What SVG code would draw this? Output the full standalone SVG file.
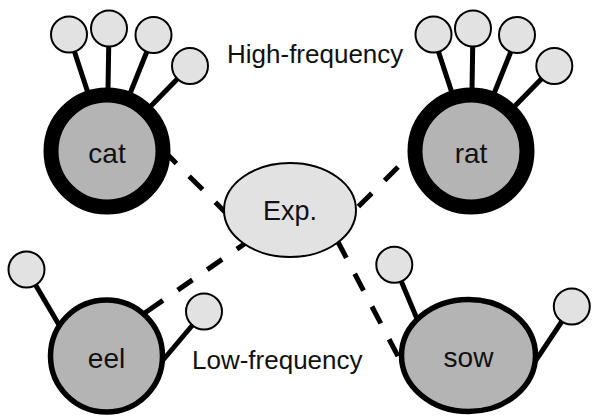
<svg xmlns="http://www.w3.org/2000/svg" width="592" height="416" viewBox="0 0 592 416">
<style>
.tail{stroke:#000;stroke-width:5;fill:none}
.dash{stroke:#000;stroke-width:5;fill:none;stroke-dasharray:19 18}
.leaf{fill:#e2e2e2;stroke:#000;stroke-width:2}
.hub{fill:#b4b4b4;stroke:#000;stroke-width:15}
.low{fill:#b4b4b4;stroke:#000;stroke-width:5.5}
.exp{fill:#e2e2e2;stroke:#000;stroke-width:2}
text{font-family:"Liberation Sans",Arial,sans-serif;fill:#111}
.lbl{font-size:28px;text-anchor:middle}
.ann{font-size:26px}
</style>
<rect width="592" height="416" fill="#fff"/>
<g id="connectors">
<line class="dash" x1="163" y1="150" x2="228" y2="215"/>
<line class="dash" x1="398" y1="167" x2="350" y2="215"/>
<line class="dash" x1="144" y1="313.5" x2="245" y2="243.5" style="stroke-dasharray:23 18 18 18 18 18 18 18"/>
<line class="dash" x1="337.5" y1="241" x2="400" y2="360"/>
<line class="tail" x1="69" y1="35" x2="107" y2="151"/>
<line class="tail" x1="109" y1="28.5" x2="107" y2="151"/>
<line class="tail" x1="153.5" y1="35" x2="107" y2="151"/>
<line class="tail" x1="190" y1="66" x2="107" y2="151"/>
<line class="tail" x1="433" y1="35" x2="471" y2="151"/>
<line class="tail" x1="473" y1="28.5" x2="471" y2="151"/>
<line class="tail" x1="517.5" y1="35" x2="471" y2="151"/>
<line class="tail" x1="554" y1="66" x2="471" y2="151"/>
<line class="tail" x1="26.5" y1="269.5" x2="62" y2="330"/>
<line class="tail" x1="204" y1="311.5" x2="158" y2="366"/>
<line class="tail" x1="394.3" y1="264.7" x2="420.6" y2="327.4"/>
<line class="tail" x1="571.8" y1="306.5" x2="530.2" y2="368.9"/>
</g>
<g id="cat-leaf-1"><circle class="leaf" cx="69" cy="34.5" r="18"/></g>
<g id="cat-leaf-2"><circle class="leaf" cx="109" cy="28.5" r="18"/></g>
<g id="cat-leaf-3"><circle class="leaf" cx="153.5" cy="35" r="18"/></g>
<g id="cat-leaf-4"><circle class="leaf" cx="190" cy="66" r="18"/></g>
<g id="rat-leaf-1"><circle class="leaf" cx="433.5" cy="34.5" r="18"/></g>
<g id="rat-leaf-2"><circle class="leaf" cx="473" cy="28.5" r="18"/></g>
<g id="rat-leaf-3"><circle class="leaf" cx="517" cy="35" r="18"/></g>
<g id="rat-leaf-4"><circle class="leaf" cx="554.3" cy="66" r="18"/></g>
<g id="eel-leaf-1"><circle class="leaf" cx="26.5" cy="269.5" r="18"/></g>
<g id="eel-leaf-2"><circle class="leaf" cx="204" cy="311.5" r="18"/></g>
<g id="sow-leaf-1"><circle class="leaf" cx="394.3" cy="264.7" r="18"/></g>
<g id="sow-leaf-2"><circle class="leaf" cx="571.8" cy="306.5" r="18"/></g>
<g id="cat"><circle class="hub" cx="107" cy="151" r="56"/><text class="lbl" x="107" y="163">cat</text></g>
<g id="rat"><circle class="hub" cx="471" cy="151" r="56"/><text class="lbl" x="471" y="163">rat</text></g>
<g id="exp"><ellipse class="exp" cx="290" cy="210" rx="66" ry="47"/><text class="lbl" x="290" y="220" style="font-size:27px">Exp.</text></g>
<g id="eel"><circle class="low" cx="106.5" cy="356" r="56"/><text class="lbl" x="106.5" y="368">eel</text></g>
<g id="sow"><ellipse class="low" cx="468.5" cy="355.5" rx="67" ry="56"/><text class="lbl" x="468.5" y="367">sow</text></g>
<g id="labels">
<text class="ann" x="227" y="63">High-frequency</text>
<text class="ann" x="192" y="369">Low-frequency</text>
</g>
</svg>
